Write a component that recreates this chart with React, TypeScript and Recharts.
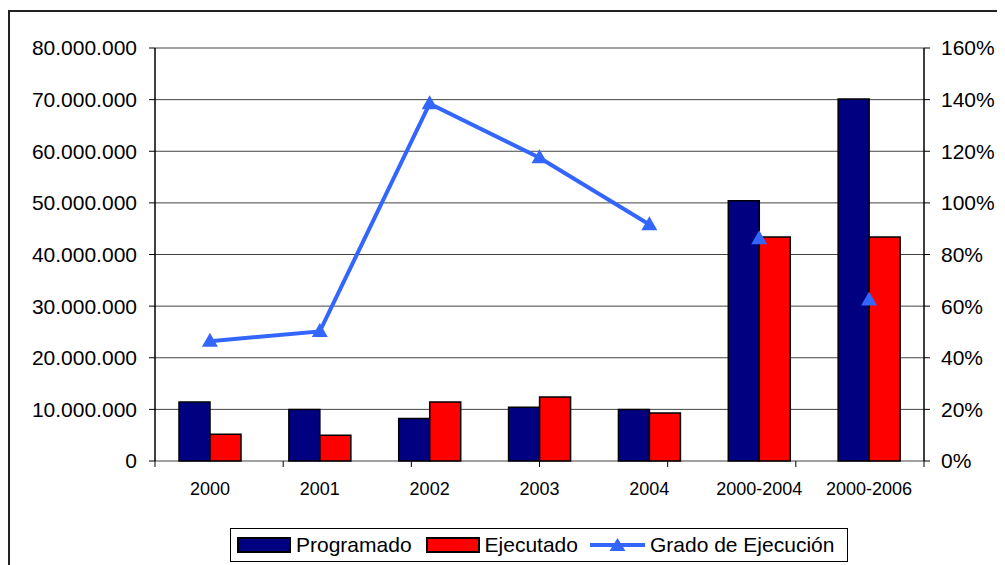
import React from 'react';
import {
  ComposedChart,
  Bar,
  Line,
  XAxis,
  YAxis,
  CartesianGrid
} from 'recharts';

const categories = ['2000', '2001', '2002', '2003', '2004', '2000-2004', '2000-2006'];
const programado = [11450000, 10000000, 8250000, 10400000, 10000000, 50400000, 70100000];
const ejecutado = [5200000, 5000000, 11450000, 12400000, 9300000, 43400000, 43400000];
// grado de ejecución (%) - los dos acumulados van sin línea
const grado = [46.4, 50.2, 138.4, 117.5, 91.6, null, null];
const gradoAcumulado = [null, null, null, null, null, 86.1, 62.4];

const leftTicks = [0, 10000000, 20000000, 30000000, 40000000, 50000000, 60000000, 70000000, 80000000];
const rightTicks = [0, 20, 40, 60, 80, 100, 120, 140, 160];
const boundaryTicks = [0, 1, 2, 3, 4, 5, 6, 7];

const FONT = '"Liberation Sans", Arial, sans-serif';
const LINE_COLOR = '#3366FF';

const chartData = categories.map((cat, i) => ({
  cat,
  programado: programado[i],
  ejecutado: ejecutado[i],
  grado: grado[i],
  gradoAcumulado: gradoAcumulado[i]
}));

const formatMillones = (v: number) => String(v).replace(/\B(?=(\d{3})+(?!\d))/g, '.');

const Triangle = (props: any) => {
  const { cx, cy, value } = props;
  if (value == null || cx == null || cy == null) return null;
  const w = 16;
  const h = 14;
  return (
    <path
      d={`M${cx},${cy - h * 0.6} L${cx + w / 2},${cy + h * 0.4} L${cx - w / 2},${cy + h * 0.4} Z`}
      fill={LINE_COLOR}
    />
  );
};

const Swatch = ({ color }: { color: string }) => (
  <span style={{
    display: 'inline-block',
    width: 50,
    height: 12,
    background: color,
    border: '2px solid #000',
    marginRight: 5
  }} />
);

export default function App() {
  return (
    <div style={{
      position: 'relative',
      width: 1000,
      height: 560,
      marginTop: 2,
      borderTop: '2px solid #222',
      borderLeft: '2px solid #222',
      boxSizing: 'border-box',
      fontFamily: FONT
    }}>
      <div style={{ position: 'absolute', left: 0, top: 0 }}>
        <ComposedChart
          width={985}
          height={500}
          data={chartData}
          margin={{ top: 36, right: 0, bottom: 10, left: 0 }}
          barGap={0}
          barSize={31}
        >
          <CartesianGrid vertical={false} stroke="#444" strokeWidth={1} yAxisId="left" />
          <XAxis
            xAxisId="bounds"
            type="number"
            domain={[0, 7]}
            ticks={boundaryTicks}
            height={1}
            axisLine={false}
            tick={() => <g />}
            tickSize={6}
            tickLine={{ stroke: '#000', strokeWidth: 1 }}
          />
          <XAxis
            xAxisId="cat"
            dataKey="cat"
            height={40}
            axisLine={false}
            tickLine={false}
            tickSize={6}
            tickMargin={14}
            tick={{ fill: '#000', fontSize: 18, fontFamily: FONT }}
            interval={0}
          />
          <YAxis
            yAxisId="left"
            width={145}
            domain={[0, 80000000]}
            ticks={leftTicks}
            tickFormatter={formatMillones}
            axisLine={{ stroke: '#000', strokeWidth: 1.5 }}
            tickLine={{ stroke: '#000' }}
            tickSize={6}
            tickMargin={12}
            tick={{ fill: '#000', fontSize: 21, fontFamily: FONT }}
          />
          <YAxis
            yAxisId="right"
            orientation="right"
            width={71}
            domain={[0, 160]}
            ticks={rightTicks}
            tickFormatter={(v: number) => `${v}%`}
            axisLine={{ stroke: '#000', strokeWidth: 1.5 }}
            tickLine={{ stroke: '#000' }}
            tickSize={6}
            tickMargin={11}
            tick={{ fill: '#000', fontSize: 21, fontFamily: FONT, textAnchor: 'start' }}
          />
          <Bar
            xAxisId="cat"
            yAxisId="left"
            dataKey="programado"
            fill="#000080"
            stroke="#000"
            strokeWidth={1.5}
            isAnimationActive={false}
          />
          <Bar
            xAxisId="cat"
            yAxisId="left"
            dataKey="ejecutado"
            fill="#FF0000"
            stroke="#000"
            strokeWidth={1.5}
            isAnimationActive={false}
          />
          <Line
            xAxisId="cat"
            yAxisId="right"
            dataKey="grado"
            stroke={LINE_COLOR}
            strokeWidth={4}
            dot={<Triangle />}
            activeDot={false}
            connectNulls={false}
            isAnimationActive={false}
          />
          <Line
            xAxisId="cat"
            yAxisId="right"
            dataKey="gradoAcumulado"
            stroke="none"
            dot={<Triangle />}
            activeDot={false}
            legendType="none"
            isAnimationActive={false}
          />
        </ComposedChart>
      </div>

      {/* leyenda */}
      <div style={{
        position: 'absolute',
        left: 220,
        top: 516,
        width: 618,
        height: 34,
        border: '1px solid #000',
        boxSizing: 'border-box',
        display: 'flex',
        alignItems: 'center',
        paddingLeft: 6,
        fontSize: 21,
        color: '#000',
        whiteSpace: 'nowrap'
      }}>
        <Swatch color="#000080" />
        <span style={{ marginRight: 14 }}>Programado</span>
        <Swatch color="#FF0000" />
        <span style={{ marginRight: 12 }}>Ejecutado</span>
        <svg width={55} height={16} style={{ marginRight: 5 }}>
          <line x1={0} y1={8} x2={55} y2={8} stroke={LINE_COLOR} strokeWidth={4} />
          <path d="M27.5,1 L35.5,14 L19.5,14 Z" fill={LINE_COLOR} />
        </svg>
        <span>Grado de Ejecución</span>
      </div>
    </div>
  );
}
